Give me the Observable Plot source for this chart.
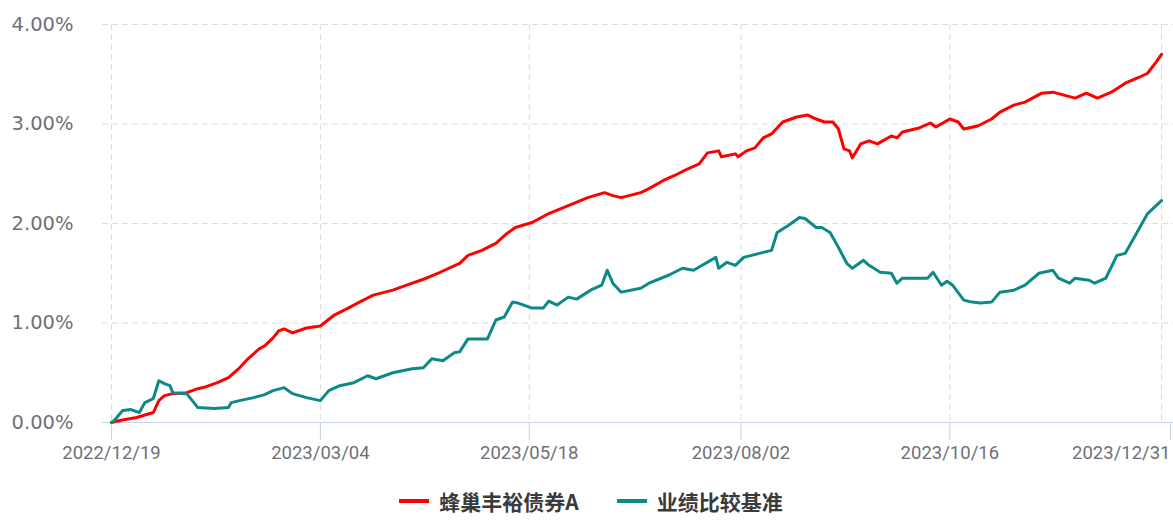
<!DOCTYPE html>
<html>
<head>
<meta charset="utf-8">
<script src="https://cdn.jsdelivr.net/npm/d3@7"></script>
<script src="https://cdn.jsdelivr.net/npm/@observablehq/plot@0.6"></script>
<style>
  html, body { margin: 0; padding: 0; background: #fff; }
  #chart svg { display: block; }
  .legend { display: flex; justify-content: center; align-items: center; height: 41px; padding-left: 9px;
    font-family: "Noto Sans CJK SC", sans-serif; font-size: 21px; font-weight: 700; color: #3a3a3a; }
  .legend .item { display: flex; align-items: center; margin: 0 19px; }
  .legend .sw { width: 30px; height: 4px; margin-right: 10px; }
</style>
</head>
<body>
<div id="chart"></div>
<div class="legend" id="legend"></div>
<script>
const seriesNames = ["蜂巢丰裕债券A", "业绩比较基准"];
const seriesColors = ["#ff0000", "#0b8a87"];

const fundDates = ["2022-12-19","2022-12-22","2022-12-28","2023-01-03","2023-01-05","2023-01-07","2023-01-10","2023-01-15","2023-01-19","2023-01-22","2023-01-26","2023-01-30","2023-02-03","2023-02-06","2023-02-10","2023-02-12","2023-02-15","2023-02-17","2023-02-19","2023-02-22","2023-02-27","2023-03-04","2023-03-09","2023-03-14","2023-03-18","2023-03-23","2023-03-30","2023-04-04","2023-04-11","2023-04-16","2023-04-23","2023-04-26","2023-05-01","2023-05-06","2023-05-10","2023-05-13","2023-05-19","2023-05-25","2023-06-01","2023-06-08","2023-06-14","2023-06-17","2023-06-20","2023-06-27","2023-06-30","2023-07-05","2023-07-09","2023-07-14","2023-07-18","2023-07-21","2023-07-25","2023-07-26","2023-07-31","2023-08-01","2023-08-04","2023-08-07","2023-08-10","2023-08-13","2023-08-17","2023-08-22","2023-08-26","2023-08-29","2023-09-01","2023-09-04","2023-09-06","2023-09-08","2023-09-10","2023-09-11","2023-09-14","2023-09-17","2023-09-20","2023-09-25","2023-09-27","2023-09-29","2023-10-05","2023-10-09","2023-10-11","2023-10-16","2023-10-19","2023-10-21","2023-10-26","2023-10-31","2023-11-03","2023-11-08","2023-11-12","2023-11-18","2023-11-22","2023-11-26","2023-11-30","2023-12-04","2023-12-08","2023-12-13","2023-12-18","2023-12-23","2023-12-26","2023-12-29","2023-12-31"];
const fundValues = [0.00,0.02,0.05,0.10,0.22,0.27,0.29,0.30,0.34,0.36,0.40,0.45,0.55,0.64,0.74,0.77,0.85,0.92,0.94,0.90,0.95,0.97,1.08,1.15,1.21,1.28,1.33,1.38,1.45,1.51,1.60,1.68,1.73,1.80,1.90,1.96,2.01,2.10,2.18,2.26,2.31,2.28,2.26,2.31,2.35,2.43,2.48,2.55,2.60,2.71,2.73,2.67,2.70,2.67,2.73,2.76,2.86,2.90,3.02,3.07,3.09,3.05,3.02,3.02,2.95,2.75,2.73,2.66,2.80,2.83,2.80,2.88,2.86,2.92,2.96,3.01,2.97,3.05,3.02,2.95,2.98,3.05,3.12,3.19,3.22,3.31,3.32,3.29,3.26,3.31,3.26,3.32,3.41,3.47,3.51,3.62,3.70];

const benchDates = ["2022-12-19","2022-12-20","2022-12-23","2022-12-26","2022-12-29","2022-12-31","2023-01-03","2023-01-05","2023-01-07","2023-01-09","2023-01-10","2023-01-15","2023-01-17","2023-01-19","2023-01-25","2023-01-30","2023-01-31","2023-02-03","2023-02-08","2023-02-12","2023-02-15","2023-02-19","2023-02-22","2023-02-27","2023-03-04","2023-03-07","2023-03-11","2023-03-16","2023-03-21","2023-03-24","2023-03-30","2023-04-06","2023-04-10","2023-04-13","2023-04-17","2023-04-21","2023-04-23","2023-04-26","2023-05-03","2023-05-06","2023-05-09","2023-05-12","2023-05-14","2023-05-19","2023-05-23","2023-05-25","2023-05-28","2023-06-01","2023-06-04","2023-06-09","2023-06-13","2023-06-15","2023-06-17","2023-06-20","2023-06-27","2023-06-30","2023-07-07","2023-07-12","2023-07-16","2023-07-24","2023-07-25","2023-07-28","2023-07-31","2023-08-03","2023-08-10","2023-08-13","2023-08-15","2023-08-19","2023-08-23","2023-08-25","2023-08-29","2023-08-31","2023-09-03","2023-09-06","2023-09-09","2023-09-11","2023-09-15","2023-09-17","2023-09-21","2023-09-25","2023-09-27","2023-09-29","2023-10-08","2023-10-10","2023-10-13","2023-10-15","2023-10-17","2023-10-21","2023-10-24","2023-10-27","2023-10-31","2023-11-03","2023-11-08","2023-11-12","2023-11-17","2023-11-22","2023-11-24","2023-11-28","2023-11-30","2023-12-05","2023-12-07","2023-12-11","2023-12-15","2023-12-18","2023-12-23","2023-12-26","2023-12-31"];
const benchValues = [0.00,0.02,0.12,0.13,0.10,0.20,0.24,0.42,0.39,0.37,0.30,0.29,0.22,0.15,0.14,0.15,0.20,0.22,0.25,0.28,0.32,0.35,0.29,0.25,0.22,0.32,0.37,0.40,0.47,0.44,0.50,0.54,0.55,0.64,0.62,0.70,0.71,0.84,0.84,1.03,1.06,1.21,1.20,1.15,1.15,1.22,1.18,1.26,1.24,1.33,1.38,1.53,1.40,1.31,1.35,1.40,1.48,1.55,1.53,1.66,1.55,1.61,1.58,1.66,1.71,1.73,1.91,1.98,2.06,2.05,1.96,1.96,1.91,1.76,1.60,1.55,1.63,1.58,1.51,1.50,1.40,1.45,1.45,1.51,1.38,1.42,1.38,1.23,1.21,1.20,1.21,1.31,1.33,1.38,1.50,1.53,1.45,1.40,1.45,1.43,1.40,1.45,1.68,1.70,1.95,2.10,2.23];

const xTickLabels = ["2022/12/19","2023/03/04","2023/05/18","2023/08/02","2023/10/16","2023/12/31"];
const yTicks = [0, 1, 2, 3, 4];

const parse = s => new Date(s.replace(/\//g, "-"));
const xTicks = xTickLabels.map(parse);
const fmtDate = d3.utcFormat("%Y/%m/%d");
const rows = [
  ...fundDates.map((d, i) => ({date: parse(d), value: fundValues[i], series: seriesNames[0]})),
  ...benchDates.map((d, i) => ({date: parse(d), value: benchValues[i], series: seriesNames[1]}))
];

const gridColor = "#dcdcdc";
const axisColor = "#c8d1e6";
const labelColor = "#6e7079";

const chart = Plot.plot({
  width: 1173,
  height: 480,
  marginLeft: 102,
  marginRight: 0,
  marginTop: 24,
  marginBottom: 58,
  x: {type: "utc", domain: [xTicks[0], xTicks[xTicks.length - 1]], insetLeft: 9, insetRight: 12},
  y: {domain: [0, 4]},
  color: {domain: seriesNames, range: seriesColors},
  marks: [
    Plot.gridY(yTicks.slice(1), {stroke: gridColor, strokeOpacity: 1, strokeDasharray: "6,4"}),
    Plot.gridX(xTicks, {stroke: gridColor, strokeOpacity: 1, strokeDasharray: "6,4"}),
    Plot.ruleY([0], {stroke: axisColor, strokeWidth: 1.2}),
    Plot.axisY(yTicks, {tickSize: 0, tickPadding: 29, tickFormat: d => d.toFixed(2) + "%",
      fontSize: 19.5, fontFamily: "DejaVu Sans", fill: labelColor, label: null}),
    Plot.axisX(xTicks.slice(0, -1), {tickSize: 18, tickPadding: 5, stroke: axisColor, tickFormat: fmtDate,
      fontSize: 18.5, fontFamily: "Roboto", fill: labelColor, label: null}),
    Plot.axisX(xTicks.slice(-1), {tickSize: 18, tickPadding: 5, stroke: axisColor, tickFormat: fmtDate,
      textAnchor: "end", dx: 9, fontSize: 18.5, fontFamily: "Roboto", fill: labelColor, label: null}),
    Plot.line(rows, {x: "date", y: "value", z: "series", stroke: "series", strokeWidth: 3,
      curve: "linear", strokeLinejoin: "round"})
  ]
});
document.getElementById("chart").appendChild(chart);

const legend = document.getElementById("legend");
seriesNames.forEach((name, i) => {
  const item = document.createElement("div");
  item.className = "item";
  const sw = document.createElement("span");
  sw.className = "sw";
  sw.style.background = seriesColors[i];
  const label = document.createElement("span");
  label.textContent = name;
  item.appendChild(sw);
  item.appendChild(label);
  legend.appendChild(item);
});
</script>
</body>
</html>
